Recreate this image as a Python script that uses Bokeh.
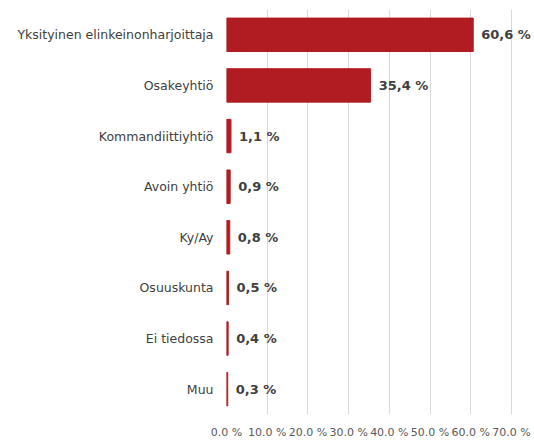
from bokeh.plotting import figure
from bokeh.models import ColumnDataSource, FixedTicker, Range1d, FactorRange
from bokeh.core.properties import value
from bokeh.embed import file_html
from bokeh.resources import INLINE

categories = ["Yksityinen elinkeinonharjoittaja", "Osakeyhtiö", "Kommandiittiyhtiö",
              "Avoin yhtiö", "Ky/Ay", "Osuuskunta", "Ei tiedossa", "Muu"]
shares = [60.6, 35.4, 1.1, 0.9, 0.8, 0.5, 0.4, 0.3]
x_ticks = [0, 10, 20, 30, 40, 50, 60, 70]
x_tick_labels = ["0.0 %", "10.0 %", "20.0 %", "30.0 %", "40.0 %", "50.0 %", "60.0 %", "70.0 %"]

labels = [f"{v:.1f} %".replace(".", ",") for v in shares]
src = ColumnDataSource(dict(cat=categories, val=shares, lab=labels))

W, H = 534, 441
left, top, bottom = 226, 9, 23
x_end = 70 * (W - left) / (511 - left)

p = figure(width=W, height=H, output_backend="svg", toolbar_location=None,
           y_range=FactorRange(*reversed(categories), range_padding=0),
           x_range=Range1d(0, x_end),
           min_border_left=left, min_border_right=0, min_border_top=top,
           min_border_bottom=bottom)
p.y_range.factor_padding = 0

p.hbar(y="cat", right="val", height=0.66, source=src, color="#B11C22")
p.text(x="val", y="cat", text="lab", source=src, x_offset=8, text_baseline="middle",
       text_font=value("DejaVu Sans"), text_font_style="bold", text_font_size="13px",
       text_color="#404040")

p.xaxis.ticker = FixedTicker(ticks=x_ticks)
p.xaxis.major_label_overrides = {t: l for t, l in zip(x_ticks, x_tick_labels)}
p.xaxis.axis_line_color = None
p.xaxis.major_tick_line_color = None
p.xaxis.minor_tick_line_color = None
p.xaxis.major_tick_out = 0
p.xaxis.major_tick_in = 0
p.xaxis.minor_tick_out = 0
p.xaxis.major_label_standoff = 11
p.xaxis.major_label_text_font = "DejaVu Sans"
p.xaxis.major_label_text_font_size = "11px"
p.xaxis.major_label_text_color = "#595959"

p.yaxis.axis_line_color = None
p.yaxis.major_tick_line_color = None
p.yaxis.minor_tick_line_color = None
p.yaxis.major_tick_out = 0
p.yaxis.major_tick_in = 0
p.yaxis.major_label_standoff = 13
p.yaxis.major_label_text_font = "DejaVu Sans"
p.yaxis.major_label_text_font_size = "12.5px"
p.yaxis.major_label_text_color = "#404040"

p.xgrid.grid_line_color = "#D9D9D9"
p.ygrid.grid_line_color = None
p.outline_line_color = None
p.background_fill_color = "white"
p.border_fill_color = "white"

open("out.html", "w").write(file_html(p, INLINE))
